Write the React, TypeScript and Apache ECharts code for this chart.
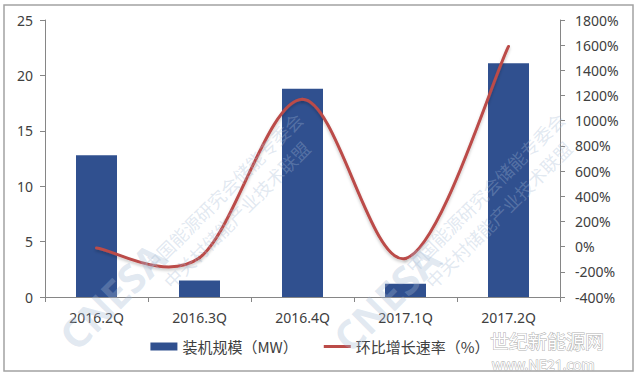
import React, { useEffect, useRef } from "react";
import * as echarts from "echarts";

const categories = ["2016.2Q", "2016.3Q", "2016.4Q", "2017.1Q", "2017.2Q"];
const capacityMW = [12.8, 1.5, 18.8, 1.2, 21.1];
const growthRate = [-10, -88, 1170, -94, 1590];
const barName = "装机规模（MW）";
const lineName = "环比增长速率（%）";

const LINE_COLOR = "#bb4b48";

export default function App() {
  const ref = useRef<HTMLDivElement>(null);
  useEffect(() => {
    if (!ref.current) return;
    const chart = echarts.init(ref.current, null, { renderer: "svg" });
    const labelFont = "'Noto Sans', 'Noto Sans CJK SC', sans-serif";
    const wmColor = "rgba(165,185,212,0.33)";
    const n = growthRate.length;

    const renderSegment = (params: any, api: any) => {
      const i = params.dataIndex;
      if (i >= n - 1) return { type: "group", children: [] };
      const pt = (k: number) => {
        const kk = Math.max(0, Math.min(n - 1, k));
        return api.coord([kk, growthRate[kk]]);
      };
      const P0 = pt(i - 1);
      const P1 = pt(i);
      const P2 = pt(i + 1);
      const P3 = pt(i + 2);
      return {
        type: "bezierCurve",
        shape: {
          x1: P1[0],
          y1: P1[1],
          x2: P2[0],
          y2: P2[1],
          cpx1: P1[0] + (P2[0] - P0[0]) / 6,
          cpy1: P1[1] + (P2[1] - P0[1]) / 6,
          cpx2: P2[0] - (P3[0] - P1[0]) / 6,
          cpy2: P2[1] - (P3[1] - P1[1]) / 6,
        },
        style: {
          stroke: LINE_COLOR,
          lineWidth: 3,
          fill: "none",
          lineCap: "round",
          shadowColor: "rgba(0,0,0,0.22)",
          shadowBlur: 3,
          shadowOffsetY: 2,
        },
      };
    };

    const wm = (text: string, x: number, y: number, font: string) => ({
      type: "text",
      x,
      y,
      rotation: Math.PI / 4,
      style: { text, fill: wmColor, font },
      z: 5,
      silent: true,
    });

    chart.setOption({
      animation: false,
      backgroundColor: "#ffffff",
      grid: { left: 45, right: 80, top: 20, bottom: 81, containLabel: false },
      legend: {
        bottom: 19,
        left: "center",
        itemWidth: 27,
        itemHeight: 8,
        itemGap: 26,
        textStyle: { fontSize: 15, color: "#404040", fontFamily: "'Noto Sans CJK SC', sans-serif" },
        data: [
          { name: barName, icon: "rect" },
          { name: lineName, icon: "path://M0,0 L27,0 L27,3 L0,3 Z" },
        ],
      },
      xAxis: {
        type: "category",
        data: categories,
        axisLine: { lineStyle: { color: "#868686", width: 1 } },
        axisTick: { show: true, length: 5, lineStyle: { color: "#868686" } },
        axisLabel: { color: "#404040", fontSize: 14, margin: 13, fontFamily: labelFont },
      },
      yAxis: [
        {
          type: "value",
          min: 0,
          max: 25,
          interval: 5,
          splitLine: { show: false },
          axisLine: { show: true, lineStyle: { color: "#868686" } },
          axisTick: { show: true, length: 5, lineStyle: { color: "#868686" } },
          axisLabel: { color: "#404040", fontSize: 14, margin: 12, fontFamily: labelFont },
        },
        {
          type: "value",
          min: -400,
          max: 1800,
          interval: 200,
          splitLine: { show: false },
          axisLine: { show: true, lineStyle: { color: "#868686" } },
          axisTick: { show: true, length: 5, lineStyle: { color: "#868686" } },
          axisLabel: {
            color: "#404040",
            fontSize: 14,
            margin: 15,
            fontFamily: labelFont,
            formatter: (v: number) => v + "%",
          },
        },
      ],
      series: [
        {
          name: barName,
          type: "bar",
          data: capacityMW,
          barWidth: 41,
          itemStyle: { color: "#30508f" },
          yAxisIndex: 0,
        },
        {
          name: lineName,
          type: "custom",
          yAxisIndex: 1,
          data: growthRate.map((v, i) => [i, v]),
          encode: { x: 0, y: 1 },
          itemStyle: { color: LINE_COLOR },
          renderItem: renderSegment,
          z: 3,
        },
      ],
      graphic: [
        {
          type: "rect",
          shape: { x: 4, y: 5, width: 629, height: 366 },
          style: { fill: "none", stroke: "#a3a3a3", lineWidth: 1.5 },
          z: 10,
        },
        wm("CNESA", 52, 328, "bold 40px 'Noto Sans', sans-serif"),
        wm("CNESA", 326, 330, "bold 40px 'Noto Sans', sans-serif"),
        wm("中国能源研究会储能专委会", 140, 262, "18px 'Noto Sans CJK SC', sans-serif"),
        wm("中关村储能产业技术联盟", 160, 278, "18px 'Noto Sans CJK SC', sans-serif"),
        wm("中国能源研究会储能专委会", 402, 262, "18px 'Noto Sans CJK SC', sans-serif"),
        wm("中关村储能产业技术联盟", 422, 278, "18px 'Noto Sans CJK SC', sans-serif"),
        {
          type: "text",
          x: 490,
          y: 331,
          style: {
            text: "世纪新能源网",
            fill: "#ffffff",
            stroke: "#b0b0b0",
            lineWidth: 1,
            font: "19px 'Noto Sans CJK SC', sans-serif",
          },
          z: 11,
          silent: true,
        },
        {
          type: "text",
          x: 492,
          y: 357,
          style: {
            text: "www.NE21.com",
            fill: "#ffffff",
            stroke: "#b0b0b0",
            lineWidth: 1,
            font: "14px 'Noto Sans', sans-serif",
          },
          z: 11,
          silent: true,
        },
      ],
    });
    return () => chart.dispose();
  }, []);
  return (
    <div
      ref={ref}
      style={{ position: "fixed", left: 0, top: 0, width: 640, height: 378 }}
    />
  );
}
